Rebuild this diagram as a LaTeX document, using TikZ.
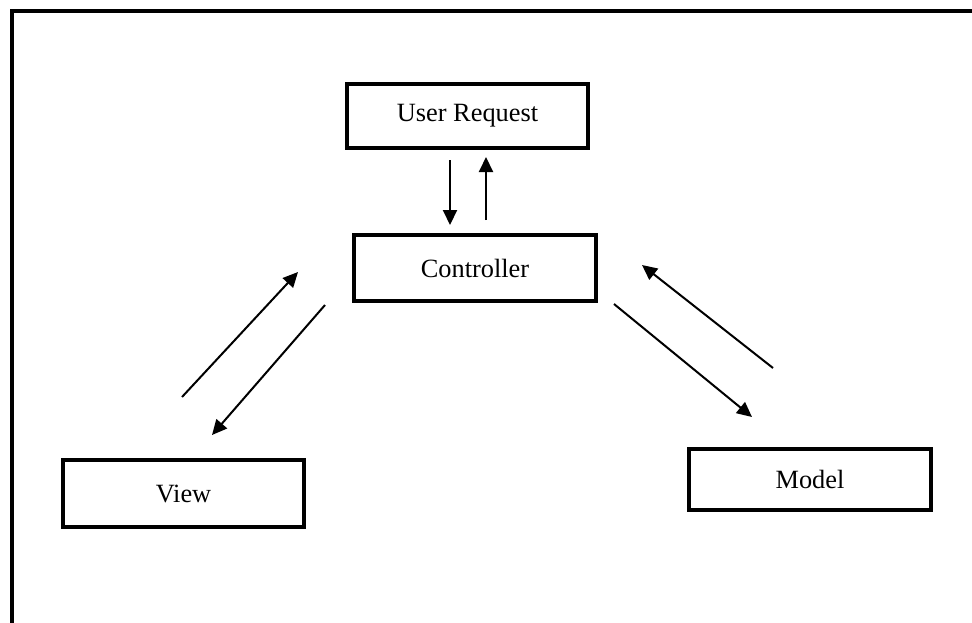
\documentclass[tikz,border=0pt]{standalone}
\usepackage{fontspec}
\setmainfont{Liberation Serif}
\usetikzlibrary{arrows.meta,positioning,calc}

\begin{document}
\begin{tikzpicture}[
  x=0.02cm, y=-0.02cm,
  box/.style={draw, line width=0.08cm, minimum height=1.3cm, minimum width=4.84cm, align=center, font=\fontsize{15}{18}\selectfont},
  flow/.style={line width=0.04cm, -{Triangle[length=0.3cm,width=0.28cm]}}
]
\useasboundingbox (0,0) rectangle (972,622);
\begin{scope}
\clip (0,0) rectangle (972,622);
\draw[line width=0.1cm] (12,11) rectangle (1000,640);
\end{scope}

\node[box] (req) at (467.5,116) {User Request};
\node[box, minimum height=1.32cm] (ctrl) at (475,268) {Controller};
\node[box, minimum height=1.34cm] (view) at (183.5,493.5) {View};
\node[box, minimum height=1.22cm] (model) at (810,479.5) {Model};

% request <-> controller
\coordinate (rq1) at (450,160); \coordinate (rq2) at (450,225);
\coordinate (rq3) at (486,220); \coordinate (rq4) at (486,157);
% view <-> controller
\coordinate (vw1) at (182,397); \coordinate (vw2) at (298,272);
\coordinate (vw3) at (325,305); \coordinate (vw4) at (212,435);
% model <-> controller
\coordinate (md1) at (773,368); \coordinate (md2) at (642,265);
\coordinate (md3) at (614,304); \coordinate (md4) at (752,417);

\draw[flow] (rq1) -- (rq2); \draw[flow] (rq3) -- (rq4);
\draw[flow] (vw1) -- (vw2); \draw[flow] (vw3) -- (vw4);
\draw[flow] (md1) -- (md2); \draw[flow] (md3) -- (md4);
\end{tikzpicture}
\end{document}
